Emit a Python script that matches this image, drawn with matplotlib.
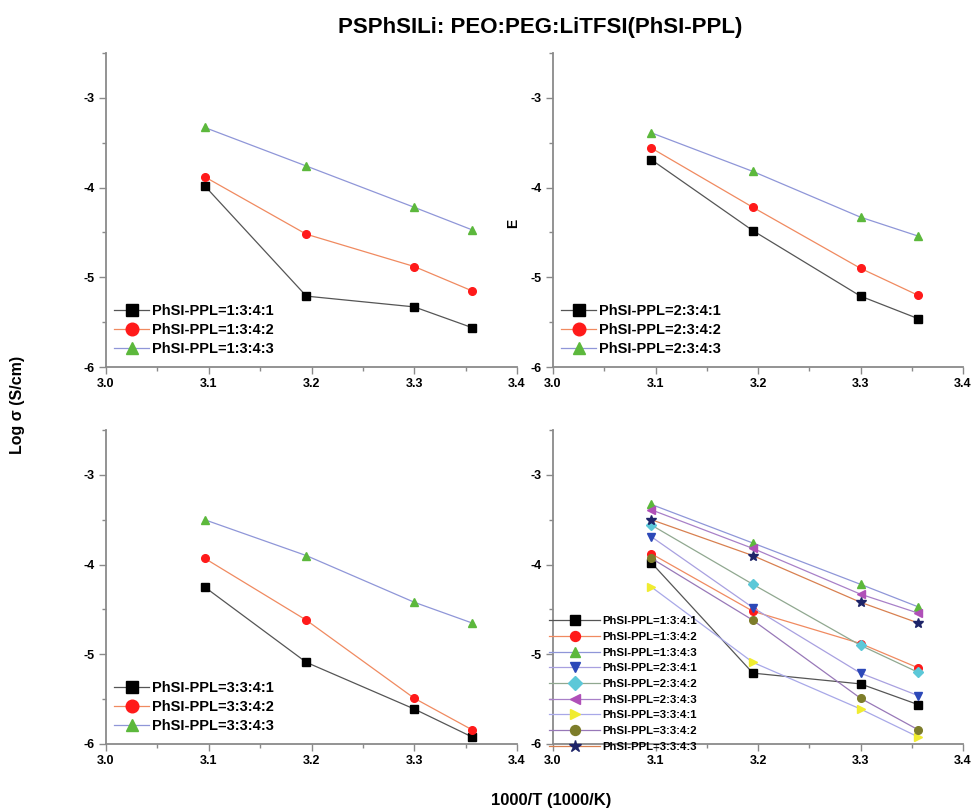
import numpy as np
import matplotlib
matplotlib.use("Agg")
import matplotlib.pyplot as plt
from matplotlib.ticker import MultipleLocator

plt.rcParams['font.family'] = ['Liberation Sans', 'DejaVu Sans']
plt.rcParams['font.weight'] = 'bold'
plt.rcParams['axes.unicode_minus'] = False

# 1000/T values (same for every series)
inv_T = [3.096, 3.195, 3.300, 3.356]

# log conductivity for each PhSI-PPL ratio
s_131 = [-3.98, -5.21, -5.33, -5.56]
s_132 = [-3.88, -4.52, -4.88, -5.15]
s_133 = [-3.33, -3.76, -4.22, -4.47]
s_231 = [-3.69, -4.48, -5.21, -5.46]
s_232 = [-3.56, -4.22, -4.90, -5.20]
s_233 = [-3.39, -3.82, -4.33, -4.54]
s_331 = [-4.25, -5.09, -5.61, -5.92]
s_332 = [-3.93, -4.62, -5.49, -5.84]
s_333 = [-3.50, -3.90, -4.42, -4.65]

labels = ['PhSI-PPL=1:3:4:1', 'PhSI-PPL=1:3:4:2', 'PhSI-PPL=1:3:4:3',
          'PhSI-PPL=2:3:4:1', 'PhSI-PPL=2:3:4:2', 'PhSI-PPL=2:3:4:3',
          'PhSI-PPL=3:3:4:1', 'PhSI-PPL=3:3:4:2', 'PhSI-PPL=3:3:4:3']
series = [s_131, s_132, s_133, s_231, s_232, s_233, s_331, s_332, s_333]

# marker style / marker colour / line colour (Origin-like)
markers = ['s', 'o', '^', 'v', 'D', '<', '>', 'o', '*']
mcolors = ['#000000', '#ff1a1a', '#5cb83c', '#2c48b8', '#5cc8d8',
           '#b050b8', '#f0ec30', '#7d7d2a', '#1e2468']
lcolors = ['#555555', '#f08a60', '#8f96d8', '#a8a0e0', '#90a890',
           '#a880c8', '#a8a8e8', '#9878b8', '#d88050']
# the three-series panels use black/red/green markers
trio_m = ['s', 'o', '^']
trio_c = ['#000000', '#ff1a1a', '#5cb83c']
trio_l = ['#555555', '#f08a60', '#8f96d8']

W, H = 973, 810
fig = plt.figure(figsize=(W / 100, H / 100), dpi=100)

def box(x0, x1, ytop, ybot):
    return [x0 / W, 1 - ybot / H, (x1 - x0) / W, (ybot - ytop) / H]

ax_tl = fig.add_axes(box(106, 517, 53, 367))
ax_tr = fig.add_axes(box(553, 963, 53, 367))
ax_bl = fig.add_axes(box(106, 517, 430, 744))
ax_br = fig.add_axes(box(553, 963, 430, 744))

def style(ax):
    ax.set_xlim(3.0, 3.4)
    ax.set_ylim(-6, -2.5)
    for s in ['top', 'right']:
        ax.spines[s].set_visible(False)
    for s in ['left', 'bottom']:
        ax.spines[s].set_color('#8a8a8a')
        ax.spines[s].set_linewidth(1.3)
    ax.xaxis.set_major_locator(MultipleLocator(0.1))
    ax.xaxis.set_minor_locator(MultipleLocator(0.05))
    ax.yaxis.set_major_locator(MultipleLocator(1))
    ax.yaxis.set_minor_locator(MultipleLocator(0.5))
    ax.xaxis.set_major_formatter(plt.FuncFormatter(lambda v, p: f'{v:.1f}'))
    ax.yaxis.set_major_formatter(plt.FuncFormatter(lambda v, p: f'{v:.0f}'))
    ax.tick_params(which='major', direction='out', length=5, width=1,
                   color='#8a8a8a', labelsize=9, pad=3)
    ax.tick_params(which='minor', direction='out', length=3, width=1,
                   color='#8a8a8a')
    for t in ax.get_xticklabels() + ax.get_yticklabels():
        t.set_fontweight('bold')

groups = [(ax_tl, [0, 1, 2]), (ax_tr, [3, 4, 5]), (ax_bl, [6, 7, 8])]
for ax, idx in groups:
    style(ax)
    for k, i in enumerate(idx):
        ax.plot(inv_T, series[i], color=trio_l[k], lw=0.9,
                marker=trio_m[k], ms=5.5, mfc=trio_c[k], mec=trio_c[k],
                label=labels[i])
    ax.legend(loc='lower left', bbox_to_anchor=(0.02, 0.035), frameon=False,
              prop={'size': 10.5, 'weight': 'bold'}, handlelength=2.4,
              handletextpad=0.2, labelspacing=0.33, borderpad=0,
              borderaxespad=0, markerscale=1.65)

style(ax_br)
for i in range(9):
    ax_br.plot(inv_T, series[i], color=lcolors[i], lw=0.9,
               marker=markers[i], ms=5.5 if markers[i] != '*' else 7,
               mfc=mcolors[i], mec=mcolors[i], label=labels[i])
ax_br.legend(loc='lower left', bbox_to_anchor=(-0.01, -0.025), frameon=False,
             prop={'size': 8.2, 'weight': 'bold'}, handlelength=4.5,
             handletextpad=0.2, labelspacing=0.5, borderpad=0,
             borderaxespad=0, markerscale=1.3)

fig.text(540 / W, 1 - 27 / H, 'PSPhSILi: PEO:PEG:LiTFSI(PhSI-PPL)',
         ha='center', va='center', fontsize=16, fontweight='bold')
fig.text(18 / W, 1 - 405 / H, 'Log σ (S/cm)', rotation=90,
         ha='center', va='center', fontsize=11.5, fontweight='bold')
fig.text(551 / W, 1 - 800 / H, '1000/T (1000/K)',
         ha='center', va='center', fontsize=12, fontweight='bold')
fig.text(513 / W, 1 - 223 / H, 'E', rotation=90,
         ha='center', va='center', fontsize=10, fontweight='bold')

fig.savefig('out.png', dpi=100)
